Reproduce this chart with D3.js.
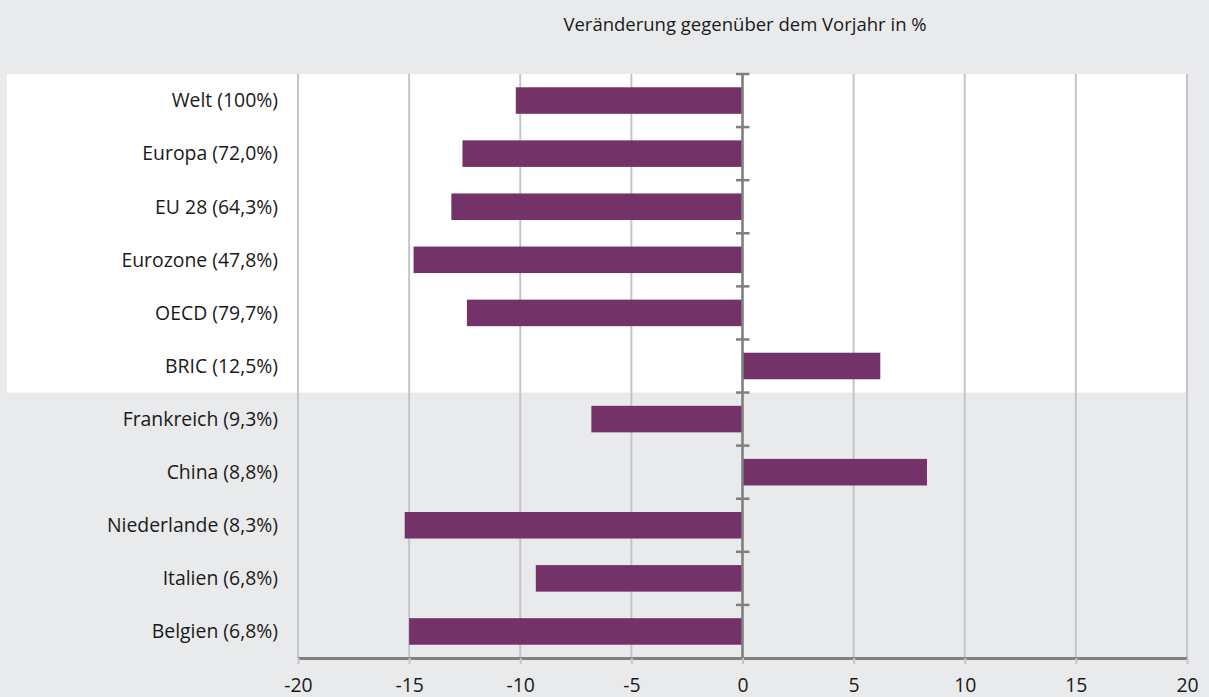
<!DOCTYPE html>
<html>
<head>
<meta charset="utf-8">
<script src="https://cdn.jsdelivr.net/npm/d3@7"></script>
<style>
  html, body { margin: 0; padding: 0; background: #e9eaec; }
  svg { display: block; }
  text { font-family: "Open Sans", "Noto Sans", sans-serif; fill: #1a1a1a; }
</style>
</head>
<body>
<svg id="chart" width="1209" height="697"></svg>
<script>
// Regions and countries (share in parentheses), change vs. previous year in %
const categories = [
  "Welt (100%)", "Europa (72,0%)", "EU 28 (64,3%)", "Eurozone (47,8%)",
  "OECD (79,7%)", "BRIC (12,5%)", "Frankreich (9,3%)", "China (8,8%)",
  "Niederlande (8,3%)", "Italien (6,8%)", "Belgien (6,8%)"
];
const values = [-10.2, -12.6, -13.1, -14.8, -12.4, 6.2, -6.8, 8.3, -15.2, -9.3, -15.0];
const xTicks = [-20, -15, -10, -5, 0, 5, 10, 15, 20];
const highlightedGroups = 6; // aggregate regions shown on the white panel
const title = "Veränderung gegenüber dem Vorjahr in %";

const svg = d3.select("#chart");
const W = 1209, H = 697;
const plotLeft = 298, plotRight = 1187, plotTop = 74, plotBottom = 658;
const labelSize = "19.4px";
const titleSize = "18.5px";

const x = d3.scaleLinear().domain([-20, 20]).range([plotLeft, plotRight]);
const y = d3.scaleBand().domain(categories).range([plotTop, plotBottom]).paddingInner(0.5).paddingOuter(0.25);
const band = d3.scaleBand().domain(categories).range([plotTop, plotBottom]).padding(0);

// background
svg.append("rect").attr("width", W).attr("height", H).attr("fill", "#e9eaec");

// white panel behind the aggregate regions
svg.append("rect")
  .attr("x", 7)
  .attr("y", plotTop)
  .attr("width", plotRight - 7)
  .attr("height", band(categories[highlightedGroups]) - plotTop)
  .attr("fill", "#ffffff");

// vertical gridlines
svg.append("g").selectAll("line").data(xTicks).join("line")
  .attr("x1", d => x(d)).attr("x2", d => x(d))
  .attr("y1", plotTop).attr("y2", plotBottom)
  .attr("stroke", "#c4c5ca").attr("stroke-width", 2);

// bars
svg.append("g").selectAll("rect").data(values).join("rect")
  .attr("x", d => x(Math.min(0, d)))
  .attr("y", (d, i) => y(categories[i]))
  .attr("width", d => Math.abs(x(d) - x(0)))
  .attr("height", y.bandwidth())
  .attr("fill", "#733369");

// x axis
const xAxis = d3.axisBottom(x).tickValues(xTicks).tickSize(6).tickPadding(14).tickFormat(d => String(d));
const gx = svg.append("g").attr("transform", `translate(0,${plotBottom})`).call(xAxis);
gx.select(".domain").attr("stroke", "#808080").attr("stroke-width", 3).attr("d", `M${plotLeft},0.5H${plotRight}`);
gx.selectAll(".tick line").attr("stroke", "#c4c5ca").attr("stroke-width", 2);
gx.selectAll(".tick text").style("font-family", "'Open Sans', 'Noto Sans', sans-serif").style("font-size", labelSize).attr("fill", "#1a1a1a");

// zero axis with ticks at the category boundaries
const boundaries = categories.map(c => band(c));
svg.append("line")
  .attr("x1", x(0)).attr("x2", x(0)).attr("y1", plotTop).attr("y2", plotBottom)
  .attr("stroke", "#808080").attr("stroke-width", 2.5);
svg.append("g").selectAll("line").data(boundaries).join("line")
  .attr("x1", x(0) - 6.5).attr("x2", x(0) + 7)
  .attr("y1", d => d).attr("y2", d => d)
  .attr("stroke", "#808080").attr("stroke-width", 2.5);

// category labels
svg.append("g").selectAll("text").data(categories).join("text")
  .attr("x", 278)
  .attr("y", d => y(d) + y.bandwidth() / 2)
  .attr("dy", "0.35em")
  .attr("text-anchor", "end")
  .style("font-size", labelSize)
  .text(d => d);

// title
svg.append("text")
  .attr("x", 745).attr("y", 25).attr("dy", "0.35em")
  .attr("text-anchor", "middle")
  .style("font-size", titleSize)
  .text(title);
</script>
</body>
</html>
